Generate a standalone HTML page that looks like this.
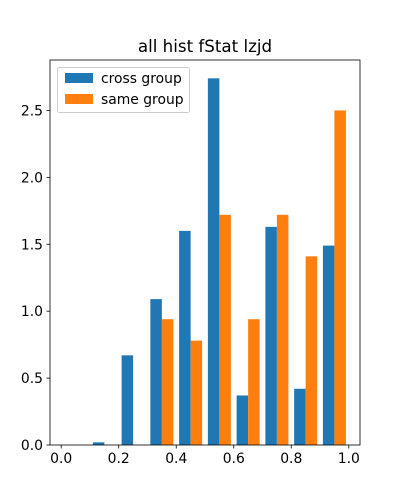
<!DOCTYPE html>
<html><head><meta charset="utf-8"><style>
body{margin:0;background:#fff;}
svg{display:block;font-family:"DejaVu Sans","Liberation Sans",sans-serif;}
</style></head><body>
<svg id="chart" width="400" height="500">
<rect width="400" height="500" fill="#fff"/>
<text x="205" y="52" text-anchor="middle" font-size="16.7">all hist fStat lzjd</text>
<g id="bars"></g>
<g id="axes"></g>
<g>
<rect x="57.5" y="67.5" width="132" height="45" rx="2" fill="#fff" fill-opacity="0.8" stroke="#ccc"/>
<rect x="65" y="73" width="28" height="10" fill="#1f77b4"/>
<text x="101" y="83" font-size="13.9">cross group</text>
<rect x="65" y="94" width="28" height="10" fill="#ff7f0e"/>
<text x="101" y="104" font-size="13.9">same group</text>
</g>
</svg>
<script>
const binEdges=[0,0.1,0.2,0.3,0.4,0.5,0.6,0.7,0.8,0.9,1.0];
const crossValues=[0,0.02,0.67,1.09,1.6,2.74,0.37,1.63,0.42,1.49];
const sameValues=[0,0,0,0.94,0.78,1.72,0.94,1.72,1.41,2.5];
const xTicks=[0,0.2,0.4,0.6,0.8,1.0];
const xTickLabels=["0.0","0.2","0.4","0.6","0.8","1.0"];
const yTicks=[0,0.5,1.0,1.5,2.0,2.5];
const yTickLabels=["0.0","0.5","1.0","1.5","2.0","2.5"];

const L=50,R=360,T=60,B=445;
const ns="http://www.w3.org/2000/svg";
const xmin=0.01-0.049,xmax=0.99+0.049;
const ymax=Math.max(...crossValues,...sameValues)*1.05;
const xs=v=>L+(v-xmin)/(xmax-xmin)*(R-L);
const ys=v=>B-v/ymax*(B-T);
function mk(tag,attrs,parent){const e=document.createElementNS(ns,tag);for(const k in attrs)e.setAttribute(k,attrs[k]);parent.appendChild(e);return e;}
const bars=document.getElementById('bars'),axes=document.getElementById('axes');
for(let i=0;i<crossValues.length;i++){
  const w=binEdges[i+1]-binEdges[i];
  const x0=binEdges[i]+w*0.1,bw=w*0.4;
  const c=mk('rect',{x:xs(x0),y:ys(crossValues[i]),width:xs(x0+bw)-xs(x0),height:B-ys(crossValues[i]),fill:'#1f77b4'},bars);
  
  
  const s=mk('rect',{x:xs(x0+bw),y:ys(sameValues[i]),width:xs(x0+2*bw)-xs(x0+bw),height:B-ys(sameValues[i]),fill:'#ff7f0e'},bars);
  
  
}
const frame=mk('rect',{x:L,y:T,width:R-L,height:B-T,fill:'none',stroke:'#000','stroke-width':0.8},axes);


xTicks.forEach((v,i)=>{
  const x=xs(v);
  const t=mk('line',{x1:x,x2:x,y1:B,y2:B+3.5,stroke:'#000','stroke-width':0.8},axes);
  
  
  const l=mk('text',{x:x,y:B+18,'text-anchor':'middle','font-size':13.9},axes);
  l.textContent=xTickLabels[i];
  
  
});
yTicks.forEach((v,i)=>{
  const y=ys(v);
  const t=mk('line',{x1:L-3.5,x2:L,y1:y,y2:y,stroke:'#000','stroke-width':0.8},axes);
  
  
  const l=mk('text',{x:L-7,y:y+5,'text-anchor':'end','font-size':13.9},axes);
  l.textContent=yTickLabels[i];
  
  
});
</script>
</body></html>
